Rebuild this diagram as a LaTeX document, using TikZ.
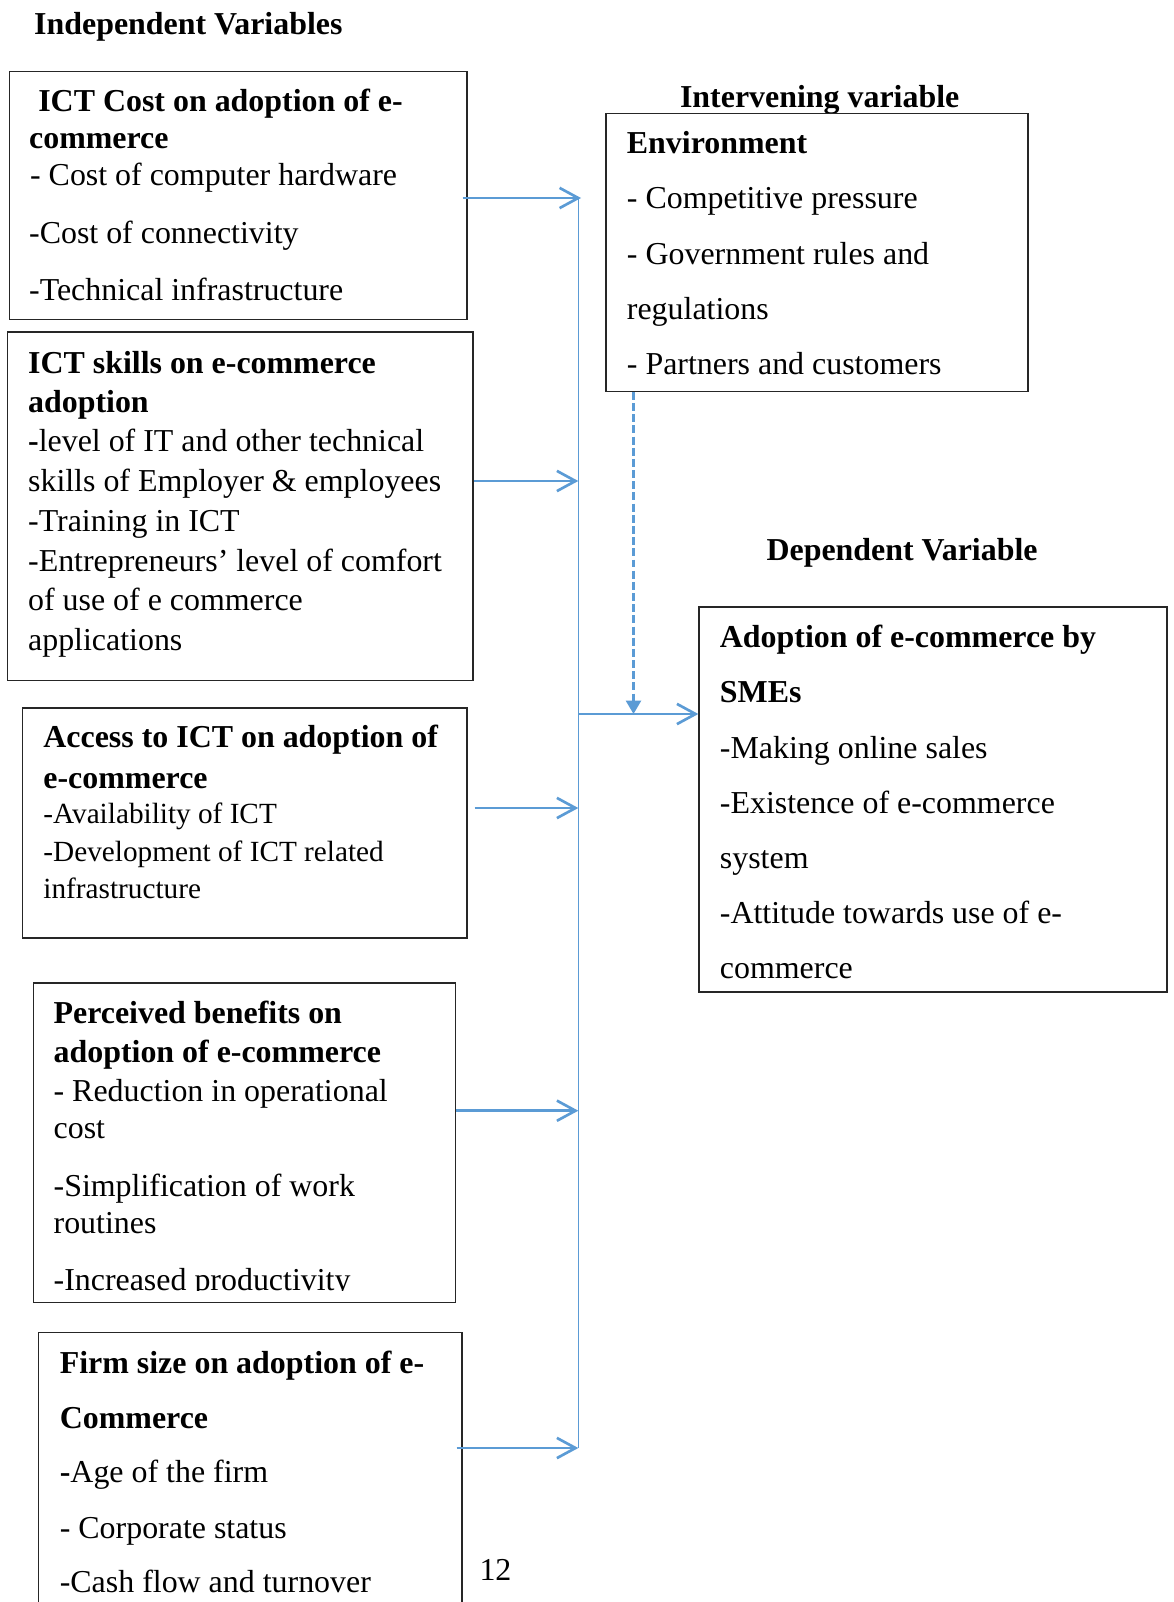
\documentclass[tikz,border=0pt]{standalone}
\usepackage{fontspec}
\setmainfont{Liberation Serif}
\usetikzlibrary{arrows.meta,fit}
\definecolor{ictblue}{HTML}{5B9BD5}
\begin{document}
\begin{tikzpicture}[x=0.376pt,y=-0.376pt,
  box/.style={draw=black!85,line width=0.5pt,inner sep=0pt,fill=none},
  txt/.style={anchor=base west,inner sep=0pt,font=\fontsize{12}{14}\selectfont},
  hd/.style={anchor=base west,inner sep=0pt,font=\fontsize{12}{14}\selectfont\bfseries},
  sm/.style={anchor=base west,inner sep=0pt,font=\fontsize{11}{13}\selectfont},
  arr/.style={draw=ictblue,line width=1pt,-{Straight Barb[length=7pt,width=7.6pt,line width=1pt]}},
  trunk/.style={draw=ictblue,line width=0.45pt},
  dsh/.style={draw=ictblue,line width=0.9pt,dash pattern=on 3pt off 1.2pt,-{Triangle[length=5pt,width=5.6pt]}}]
\useasboundingbox (0,0) rectangle (1173,1602);
\fill[white] (0,0) rectangle (1173,1602);

% titles
\node[hd] (tind) at (33.7,34.5) {Independent Variables};
\node[hd] (tint) at (679.5,108) {Intervening variable};
\node[hd] (tdep) at (766,560.7) {Dependent Variable};

% boxes
\node[box,fit={(9.2,71.5) (467,319.8)}] (b1) {};
\node[box,fit={(7.2,332) (473,680.5)}] (b2) {};
\node[box,fit={(22.5,708) (467,938)}] (b3) {};
\node[box,fit={(33.7,983) (455.7,1302.8)}] (b4) {};
\node[box,fit={(38.8,1332.4) (461.9,1625)}] (b5) {};
\node[box,fit={(606,113.4) (1028,391.3)}] (env) {};
\node[box,fit={(699,607) (1167,992)}] (dep) {};

% box 1
\node[hd] (b1a) at (37.8,112) {ICT Cost on adoption of e-};
\node[hd] (b1b) at (28.6,149) {commerce};
\node[txt] (b1c) at (29.6,186) {- Cost of computer hardware};
\node[txt] (b1d) at (28.6,244) {-Cost of connectivity};
\node[txt] (b1e) at (28.6,301) {-Technical infrastructure};

% box 2
\node[hd] (b2a) at (27.6,373.8) {ICT skills on e-commerce};
\node[hd] (b2b) at (27.6,412.6) {adoption};
\node[txt] (b2c) at (27.6,451.4) {\textbf{-}level of IT and other technical};
\node[txt] (b2d) at (27.6,491.3) {skills of Employer \& employees};
\node[txt] (b2e) at (27.6,531) {-Training in ICT};
\node[txt] (b2f) at (27.6,571) {-Entrepreneurs’ level of comfort};
\node[txt] (b2g) at (27.6,610.8) {of use of e commerce};
\node[txt] (b2h) at (27.6,650.7) {applications};

% box 3
\node[hd] (b3a) at (42.9,747.7) {Access to ICT on adoption of};
\node[hd] (b3b) at (42.9,788.6) {e-commerce};
\node[sm] (b3c) at (42.9,823.4) {-Availability of ICT};
\node[sm] (b3d) at (42.9,861.2) {-Development of ICT related};
\node[sm] (b3e) at (42.9,898) {infrastructure};

% box 4
\node[hd] (b4a) at (53.1,1023.6) {Perceived benefits on};
\node[hd] (b4b) at (53.1,1062.5) {adoption of e-commerce};
\node[txt] (b4c) at (53.1,1101.3) {- Reduction in operational};
\node[txt] (b4d) at (53.1,1138) {cost};
\node[txt] (b4e) at (53.1,1196.3) {-Simplification of work};
\node[txt] (b4f) at (53.1,1233.2) {routines};
\begin{scope}
\clip (40,1250) rectangle (450,1290.5);
\node[txt] (b4g) at (53.1,1290.3) {-Increased productivity};
\end{scope}

% box 5
\node[hd] (b5a) at (59.3,1373) {Firm size on adoption of e-};
\node[hd] (b5b) at (59.3,1428) {Commerce};
\node[txt] (b5c) at (59.3,1482) {\textbf{-}Age of the firm};
\node[txt] (b5d) at (59.3,1538) {- Corporate status};
\node[txt] (b5e) at (59.3,1592.8) {-Cash flow and turnover};

\node[txt] (pg) at (479,1580) {12};

% environment
\node[hd] (ea) at (626.4,154) {Environment};
\node[txt] (eb) at (626.4,208.2) {- Competitive pressure};
\node[txt] (ec) at (626.4,264.4) {- Government rules and};
\node[txt] (ed) at (626.4,319.6) {regulations};
\node[txt] (ee) at (626.4,374.8) {- Partners and customers};

% dependent
\node[hd] (da) at (719.4,647.6) {Adoption of e-commerce by};
\node[hd] (db) at (719.4,702.8) {SMEs};
\node[txt] (dc) at (719.4,758) {-Making online sales};
\node[txt] (dd) at (719.4,813) {-Existence of e-commerce};
\node[txt] (de) at (719.4,868.3) {system};
\node[txt] (df) at (719.4,923.5) {-Attitude towards use of e-};
\node[txt] (dg) at (719.4,978.7) {commerce};

% connectors
\coordinate (t1) at (581,198);
\coordinate (t2) at (578.3,481);
\coordinate (t3) at (578.3,808);
\coordinate (t4) at (578.3,1110.7);
\coordinate (t5) at (578.3,1448);
\coordinate (tD) at (578.3,714);
\coordinate (dj) at (633.5,714);

\draw[trunk] (578.3,198) -- (t5);
\draw[arr] ([xshift=-5*0.376pt]b1.east |- t1) -- (t1);
\draw[arr] (b2.east |- t2) -- (t2);
\draw[arr] ([xshift=7*0.376pt]b3.east |- t3) -- (t3);
\draw[arr] (b4.east |- t4) -- (t4);
\draw[arr] ([xshift=-6*0.376pt]b5.east |- t5) -- (t5);
\draw[arr] (tD) -- (dep.west |- tD);
\draw[dsh] (env.south -| dj) -- (dj);
\end{tikzpicture}
\end{document}
